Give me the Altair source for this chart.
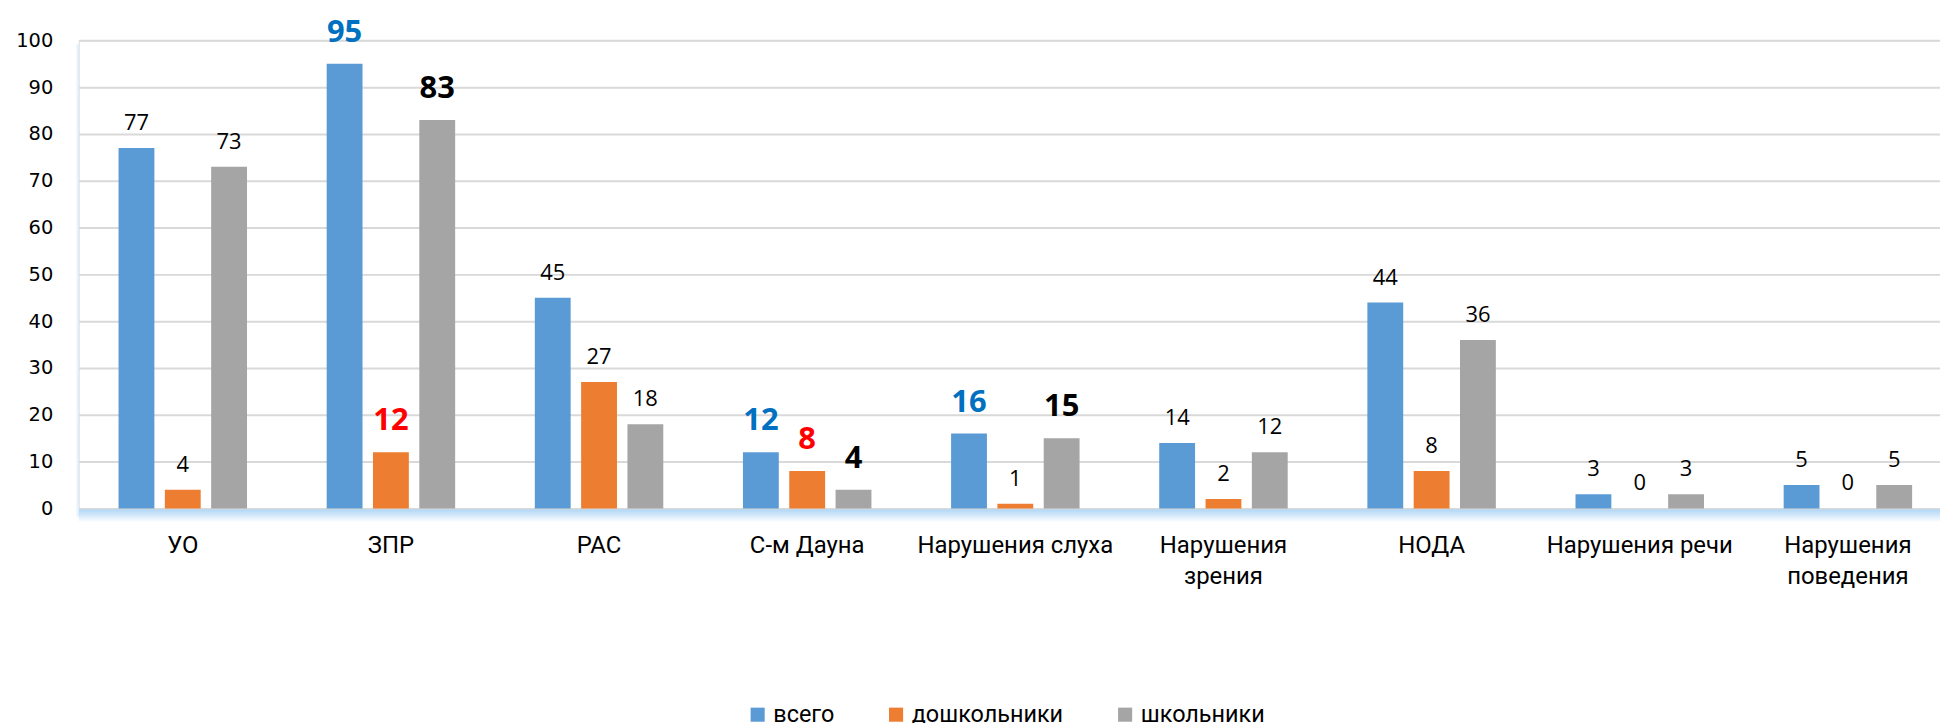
import altair as alt
import pandas as pd

categories = ["УО", "ЗПР", "РАС", "С-м Дауна", "Нарушения слуха",
              "Нарушения зрения", "НОДА", "Нарушения речи", "Нарушения поведения"]
series = ["всего", "дошкольники", "школьники"]
vsego = [77, 95, 45, 12, 16, 14, 44, 3, 5]
doshk = [4, 12, 27, 8, 1, 2, 8, 0, 0]
shk = [73, 83, 18, 4, 15, 12, 36, 3, 5]
bar_colors = ["#5B9BD5", "#ED7D31", "#A5A5A5"]
emph_colors = ["#0070C0", "#FF0000", "#000000"]
emph_vsego = [False, True, False, True, True, False, False, False, False]
emph_doshk = [False, True, False, True, False, False, False, False, False]
emph_shk = [False, True, False, True, True, False, False, False, False]
wrapped = ["Нарушения зрения", "Нарушения поведения"]
y_ticks = [0, 10, 20, 30, 40, 50, 60, 70, 80, 90, 100]

rows = []
for s, vals, emph, ec in zip(series, [vsego, doshk, shk],
                             [emph_vsego, emph_doshk, emph_shk], emph_colors):
    for c, v, e in zip(categories, vals, emph):
        rows.append({"cat": c, "series": s, "value": v, "emph": e,
                     "labcolor": ec if e else "#000000"})
df = pd.DataFrame(rows)

PLOT_W = 1881  # full category range (right part cut off like the reference)
label_expr = " || ".join(f"datum.label == '{w}'" for w in wrapped)
label_expr = f"({label_expr}) ? split(datum.label, ' ') : datum.label"

x_enc = alt.X("cat:N", sort=categories,
              scale=alt.Scale(range=[0, PLOT_W], paddingInner=0, paddingOuter=0),
              axis=alt.Axis(title=None, domain=False, ticks=False, tickSize=0,
                            labelAngle=0, labelFont="Roboto", labelFontSize=24,
                            labelColor="#000000", labelPadding=25,
                            labelLineHeight=31, labelLimit=400,
                            labelExpr=label_expr))
xo_enc = alt.XOffset("series:N", sort=series,
                     scale=alt.Scale(paddingInner=0.226, paddingOuter=0.86))
y_enc = alt.Y("value:Q", scale=alt.Scale(domain=[0, 100], nice=False),
              axis=alt.Axis(title=None, values=y_ticks, domain=False, ticks=False,
                            labelFont="DejaVu Sans", labelFontSize=19.5,
                            labelColor="#000000", labelPadding=26,
                            gridColor="#D9D9D9", gridWidth=2))

base = alt.Chart(df)

bars = base.mark_bar().encode(
    x=x_enc, xOffset=xo_enc, y=y_enc,
    color=alt.Color("series:N", sort=series,
                    scale=alt.Scale(domain=series, range=bar_colors),
                    legend=alt.Legend(title=None, orient="none", direction="horizontal",
                                      legendX=670, legendY=665,
                                      symbolType="square", symbolSize=200,
                                      symbolStrokeWidth=0, labelFont="Roboto",
                                      labelFontSize=23.5, labelColor="#000000",
                                      labelOffset=4, columnPadding=50,
                                      labelLimit=400))
)

labels_normal = base.transform_filter("!datum.emph").mark_text(
    font="Open Sans", fontSize=22, baseline="alphabetic", dy=-18, color="#000000"
).encode(x=x_enc, xOffset=xo_enc, y=y_enc, text="value:Q")

labels_bold = base.transform_filter("datum.emph").mark_text(
    font="Open Sans", fontSize=31, fontWeight="bold", baseline="alphabetic", dy=-22
).encode(x=x_enc, xOffset=xo_enc, y=y_enc, text="value:Q",
         color=alt.Color("labcolor:N", scale=None))

glow_df = pd.DataFrame({"k": [0]})
floor_glow = alt.Chart(glow_df).mark_rect(
    color=alt.Gradient(gradient="linear",
                       stops=[alt.GradientStop(color="#AFD6F6", offset=0),
                              alt.GradientStop(color="#FFFFFF", offset=1)],
                       x1=0, x2=0, y1=0, y2=1)
).encode(x=alt.value(0), x2=alt.value(PLOT_W), y=alt.value(471), y2=alt.value(484))

side_glow = alt.Chart(glow_df).mark_rect(
    color=alt.Gradient(gradient="linear",
                       stops=[alt.GradientStop(color="#FFFFFF", offset=0),
                              alt.GradientStop(color="#D6EAFB", offset=1)],
                       x1=0, x2=1, y1=0, y2=0)
).encode(x=alt.value(-3), x2=alt.value(0), y=alt.value(4), y2=alt.value(478))

chart = alt.layer(floor_glow, side_glow, bars, labels_normal, labels_bold).properties(
    width=1869, height=470,
    autosize=alt.AutoSizeParams(type="none"),
    padding={"left": 71, "top": 31, "right": 0, "bottom": 214},
).configure_view(stroke=None).configure(background="#FFFFFF")

chart.save("out.html", embed_options={"renderer": "svg", "actions": False})
